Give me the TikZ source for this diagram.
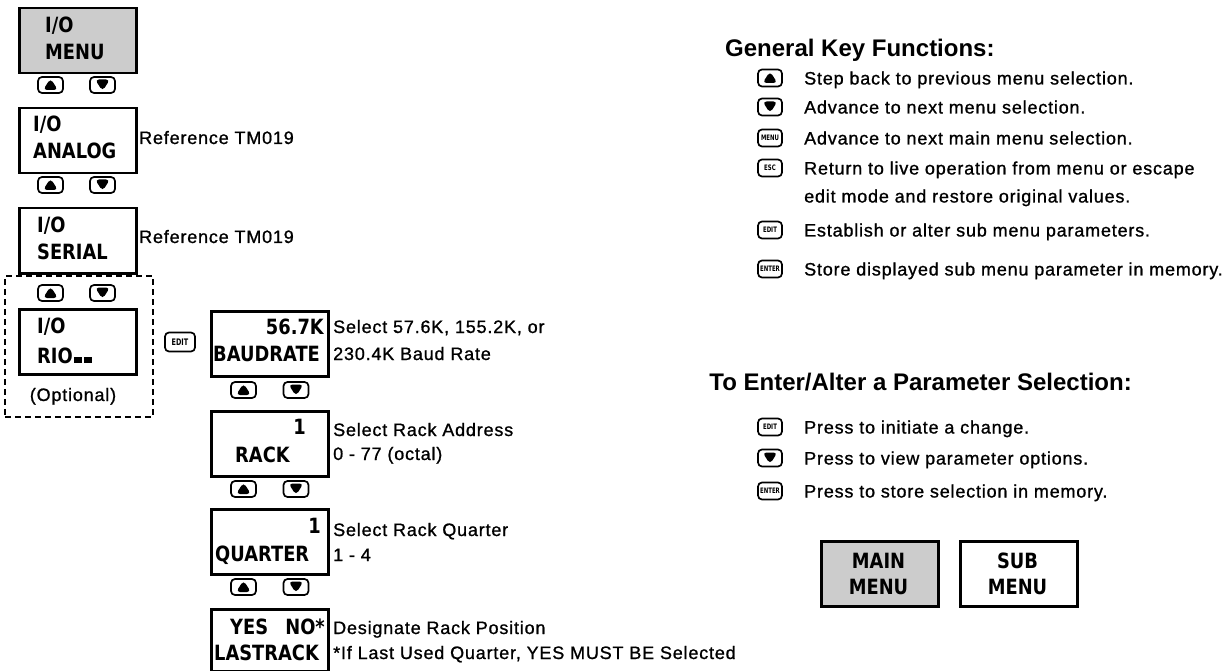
\documentclass[tikz,border=0pt]{standalone}
\usepackage{fontspec}
\setmainfont{Liberation Sans}
\newfontfamily\bodyfont[LetterSpace=4.5,FakeBold=1]{Liberation Sans}
\newfontfamily\headfont{Liberation Sans}
\newfontfamily\lcdfont[FakeStretch=0.85]{DejaVu Sans}
\newfontfamily\keyfont[FakeStretch=0.72]{DejaVu Sans}
\begin{document}
\begin{tikzpicture}[x=1pt,y=-1pt,
  lcdbox/.style={draw, line width=2.5pt, minimum width=117pt, minimum height=65pt, inner sep=0pt, anchor=north west},
  shaded/.style={fill=gray!40},
  lcdtxt/.style={font=\lcdfont\bfseries\fontsize{21}{21}\selectfont, inner sep=0pt},
  body/.style={font=\bodyfont\fontsize{18}{18}\selectfont, inner sep=0pt, anchor=base west},
  head/.style={font=\headfont\bfseries\fontsize{24}{24}\selectfont, inner sep=0pt},
  keybtn/.style={draw, line width=1.7pt, rounded corners=4pt, minimum width=25pt, minimum height=16pt, inner sep=0pt,
    font=\keyfont\bfseries\fontsize{7.5}{7.5}\selectfont},
  rkey/.style={keybtn, minimum width=24pt, minimum height=17pt},
  upbtn/.style={keybtn, path picture={\fill ([xshift=-7.5pt,yshift=-5pt]path picture bounding box.center) -- ++(15pt,0pt) -- ++(-7.5pt,11.5pt) -- cycle;}},
  dnbtn/.style={keybtn, path picture={\fill ([xshift=-7.5pt,yshift=5.5pt]path picture bounding box.center) -- ++(15pt,0pt) -- ++(-7.5pt,-11.5pt) -- cycle;}},
  optbox/.style={draw, dashed, dash pattern=on 6pt off 4pt, line width=1.8pt, minimum width=148pt, minimum height=141pt, inner sep=0pt, anchor=north west}
]
\useasboundingbox (0,0) rectangle (1229,671);

% ---------- left column ----------
\node[lcdbox, shaded] (menu) at (18,7) {};
\node[lcdtxt, anchor=base west] (menuA) at (45,33) {I/O};
\node[lcdtxt, anchor=base west] (menuB) at (45,60) {MENU};
\node[upbtn] (up1) at (50.5,85) {};
\node[dnbtn] (dn1) at (102.5,85) {};

\node[lcdbox] (analog) at (18,107) {};
\node[lcdtxt, anchor=base west] (anA) at (33,132) {I/O};
\node[lcdtxt, anchor=base west] (anB) at (33,159) {ANALOG};
\node[body] (ref1) at (139,144) {Reference TM019};
\node[upbtn] (up2) at (50.5,185) {};
\node[dnbtn] (dn2) at (102.5,185) {};

\node[lcdbox] (serial) at (18,207) {};
\node[lcdtxt, anchor=base west] (seA) at (37,233) {I/O};
\node[lcdtxt, anchor=base west] (seB) at (37,259) {SERIAL};
\node[body] (ref2) at (139,243) {Reference TM019};

\node[optbox] (opt) at (4,275) {};
\node[upbtn] (up3) at (50.5,293) {};
\node[dnbtn] (dn3) at (102.5,293) {};
\node[lcdbox] (rio) at (18,308) {};
\node[lcdtxt, anchor=base west] (rioA) at (37,333) {I/O};
\node[lcdtxt, anchor=base west] (rioB) at (37,363) {RIO\hspace{1pt}\rule{8pt}{6pt}\hspace{2pt}\rule{8pt}{6pt}};
\node[body, anchor=base] (optl) at (73,401) {(Optional)};

\node[keybtn, minimum width=30pt, minimum height=19pt, font=\keyfont\bfseries\fontsize{9}{9}\selectfont] (edit1) at (180,342) {EDIT};

% ---------- sub menu column ----------
\node[lcdbox] (baud) at (210,310) {};
\node[lcdtxt, anchor=base east] (bA) at (324,334) {56.7K};
\node[lcdtxt, anchor=base west] (bB) at (213,361) {BAUDRATE};
\node[body] (bt1) at (333,333) {Select 57.6K, 155.2K, or};
\node[body] (bt2) at (333,360) {230.4K Baud Rate};
\node[upbtn] (up4) at (243.5,390) {};
\node[dnbtn] (dn4) at (296,390) {};

\node[lcdbox] (rack) at (210,410) {};
\node[lcdtxt, anchor=base east] (rA) at (306,434) {1};
\node[lcdtxt, anchor=base west] (rB) at (235,462) {RACK};
\node[body] (rt1) at (333,436) {Select Rack Address};
\node[body] (rt2) at (333,460) {0 - 77 (octal)};
\node[upbtn] (up5) at (243.5,489) {};
\node[dnbtn] (dn5) at (296,489) {};

\node[lcdbox] (quarter) at (210,508) {};
\node[lcdtxt, anchor=base east] (qA) at (321,533) {1};
\node[lcdtxt, anchor=base west] (qB) at (215,561) {QUARTER};
\node[body] (qt1) at (333,536) {Select Rack Quarter};
\node[body] (qt2) at (333,561) {1 - 4};
\node[upbtn] (up6) at (243.5,587) {};
\node[dnbtn] (dn6) at (296,587) {};

\node[lcdbox, minimum height=62pt] (last) at (210,608) {};
\node[lcdtxt, anchor=base west] (lA) at (230,634) {YES};
\node[lcdtxt, anchor=base east] (lB) at (325,634) {NO*};
\node[lcdtxt, anchor=base west] (lC) at (214,660) {LASTRACK};
\node[body] (lt1) at (333,634) {Designate Rack Position};
\node[body] (lt2) at (333,659) {*If Last Used Quarter, YES MUST BE Selected};

% ---------- general key functions ----------
\node[head, anchor=base west] (gkf) at (725,57) {General Key Functions:};
\node[upbtn, rkey] (k1) at (770,78) {};
\node[body] (k1t) at (804,84.5) {Step back to previous menu selection.};
\node[dnbtn, rkey] (k2) at (770,107) {};
\node[body] (k2t) at (804,113.5) {Advance to next menu selection.};
\node[rkey] (k3) at (770,138) {MENU};
\node[body] (k3t) at (804,144.5) {Advance to next main menu selection.};
\node[rkey] (k4) at (770,168) {ESC};
\node[body] (k4t) at (804,174.5) {Return to live operation from menu or escape};
\node[body] (k4u) at (804,202.5) {edit mode and restore original values.};
\node[rkey] (k5) at (770,230) {EDIT};
\node[body] (k5t) at (804,236.5) {Establish or alter sub menu parameters.};
\node[rkey] (k6) at (770,269) {ENTER};
\node[body] (k6t) at (804,275.5) {Store displayed sub menu parameter in memory.};

% ---------- enter / alter ----------
\node[head, anchor=base east] (eah) at (1132,390) {To Enter/Alter a Parameter Selection:};
\node[rkey] (e1) at (770,427) {EDIT};
\node[body] (e1t) at (804,433.5) {Press to initiate a change.};
\node[dnbtn, rkey] (e2) at (770,458) {};
\node[body] (e2t) at (804,464.5) {Press to view parameter options.};
\node[rkey] (e3) at (770,491) {ENTER};
\node[body] (e3t) at (804,497.5) {Press to store selection in memory.};

\node[lcdbox, shaded] (mainm) at (820,540) {};
\node[lcdtxt, anchor=base] (mA) at (878.5,568) {MAIN};
\node[lcdtxt, anchor=base] (mB) at (878.5,594) {MENU};
\node[lcdbox] (subm) at (959,540) {};
\node[lcdtxt, anchor=base] (sA) at (1017.5,568) {SUB};
\node[lcdtxt, anchor=base] (sB) at (1017.5,594) {MENU};
\end{tikzpicture}
\end{document}
